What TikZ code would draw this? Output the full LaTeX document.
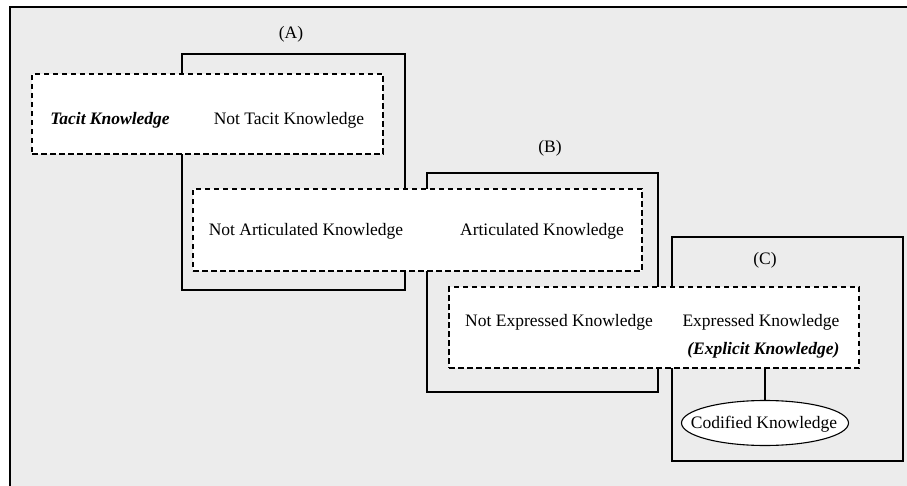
\documentclass[tikz,border=0pt]{standalone}
\usepackage{fontspec}
\setmainfont{Liberation Serif}
\usepackage{xcolor}
\usepackage{tikz}
\usetikzlibrary{shapes,shapes.geometric}
\usetikzlibrary{calc,positioning}
\definecolor{paneback}{RGB}{236,236,236}

\begin{document}
\begin{tikzpicture}[x=1pt,y=-1pt,
  every node/.style={font=\fontsize{17.5}{21}\selectfont},
  solidbox/.style={draw, line width=1.1pt, inner sep=0pt},
  dashbox/.style={draw, dash pattern=on 5.5pt off 3.5pt, line width=1.3pt, fill=white, inner sep=0pt},
  knowtext/.style={anchor=base, inner sep=0pt},
  boldtext/.style={anchor=base, inner sep=0pt, font=\fontsize{17.5}{21}\selectfont\bfseries\itshape}]
\useasboundingbox (0,0) rectangle (907,486);
\clip (0,0) rectangle (907,486);
\fill[white] (0,0) rectangle (907,486);
\draw[fill=paneback, line width=1.6pt] (10,7) rectangle (915,495);

\node[solidbox, minimum width=223pt, minimum height=236pt] (boxA) at (293.5,172) {};
\node[solidbox, minimum width=231pt, minimum height=219pt] (boxB) at (542.5,282.5) {};
\node[solidbox, minimum width=231pt, minimum height=224pt] (boxC) at (787.5,349) {};

\node[knowtext] (labA) at (291,39) {(A)};
\node[knowtext] (labB) at (550,153) {(B)};
\node[knowtext] (labC) at (765,265) {(C)};

\node[dashbox, minimum width=351pt, minimum height=80pt] (dashA) at (207.5,114) {};
\node[boldtext] (tacit) at (110,125) {Tacit Knowledge};
\node[knowtext] (nottacit) at (289,125) {Not Tacit Knowledge};

\node[dashbox, minimum width=449pt, minimum height=82pt] (dashB) at (417.5,230) {};
\node[knowtext] (notartic) at (306,236) {Not Articulated Knowledge};
\node[knowtext] (artic) at (542,236) {Articulated Knowledge};

\node[dashbox, minimum width=410pt, minimum height=81pt] (dashC) at (654,327.5) {};
\node[knowtext] (notexpr) at (559,326) {Not Expressed Knowledge};
\node[knowtext] (expr) at (761,326) {Expressed Knowledge};
\node[boldtext, anchor=base east] (explicit) at (expr.base east |- 0,354) {(Explicit Knowledge)};

\node[ellipse, draw, line width=1.1pt, fill=white, inner sep=0pt, minimum width=167pt, minimum height=45pt] (codified) at (765,423) {};
\node[knowtext] (codtext) at (764,428) {Codified Knowledge};
\draw[line width=1.1pt] (codified.north) -- (codified.north |- dashC.south);
\end{tikzpicture}
\end{document}
